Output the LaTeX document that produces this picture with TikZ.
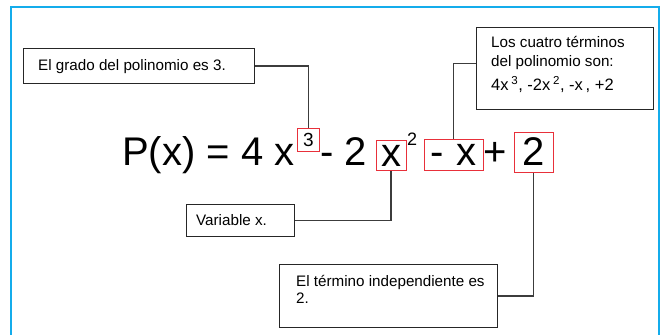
\documentclass[tikz,border=0pt]{standalone}
\usepackage{fontspec}
\setmainfont{Liberation Sans}
\usetikzlibrary{positioning}
\definecolor{marco}{RGB}{20,172,235}
\definecolor{rojo}{RGB}{232,48,58}
\definecolor{linea}{RGB}{60,60,60}
\tikzset{
  caja/.style={draw=black!85, line width=1pt, inner sep=0pt, anchor=north west},
  texto/.style={inner sep=0pt, anchor=north west, align=left, font=\fontsize{15.2}{16.5}\selectfont},
  marca/.style={draw=rojo, line width=1pt, inner sep=0pt},
  grande/.style={inner sep=0pt, font=\fontsize{40}{48}\selectfont},
  enlace/.style={draw=linea, line width=1.1pt},
}
\begin{document}
\begin{tikzpicture}[x=1pt, y=-1pt]
  \useasboundingbox (0,0) rectangle (662,335);
  % marco azul
  \draw[marco, line width=2pt] (11,340) -- (11,7) -- (659,7) -- (659,340);

  % polinomio
  \node[grande, anchor=base west] (pol) at (122,165) {P(x) = 4 x};
  \node[marca, minimum width=22, minimum height=23, font=\fontsize{19}{20}\selectfont] (sup3) at (308.5,139.5) {3};
  \node[grande, anchor=base west] (menos2) at (320,165) {- 2};
  \node[marca, grande, minimum width=30, minimum height=30] (xvar) at (391,155.7) {x};
  \node[inner sep=0pt, anchor=base west, font=\fontsize{18}{20}\selectfont] (sup2) at (407,145) {2};
  \node[marca, grande, minimum width=59, minimum height=31] (mx) at (453.5,154.5) {-\,\,x};
  \node[grande, anchor=base west] (mas) at (483,165) {+};
  \node[marca, grande, minimum width=39, minimum height=40] (dos) at (533.5,152) {2};

  % cajas de texto
  \node[caja, minimum width=231, minimum height=35] (grado) at (23,48) {};
  \node[texto] (gradotxt) at ([xshift=15, yshift=-11]grado.north west) {El grado del polinomio es 3.};

  \node[caja, minimum width=177, minimum height=82] (terminos) at (476,27) {};
  \node[texto] (terminostxt) at ([xshift=15, yshift=-9.5]terminos.north west)
    {Los cuatro términos\\[2pt]del polinomio son:\\[6pt]{\fontsize{16.5}{18}\selectfont 4x\,\textsuperscript{3}, -2x\,\textsuperscript{2}, -x\,, +2}};

  \node[caja, minimum width=108, minimum height=32] (variable) at (186,204) {};
  \node[texto] (variabletxt) at ([xshift=10, yshift=-10]variable.north west) {Variable x.};

  \node[caja, minimum width=218, minimum height=63] (indep) at (279,264) {};
  \node[texto] (indeptxt) at ([xshift=17, yshift=-11]indep.north west) {El término independiente es\\[1pt]2.};

  % conectores
  \draw[enlace] (grado.east) -| (sup3.north);
  \draw[enlace] ([yshift=5]terminos.west) -| (mx.north);
  \draw[enlace] (variable.east) -| (xvar.south);
  \draw[enlace] (indep.east) -| (dos.south);
\end{tikzpicture}
\end{document}
